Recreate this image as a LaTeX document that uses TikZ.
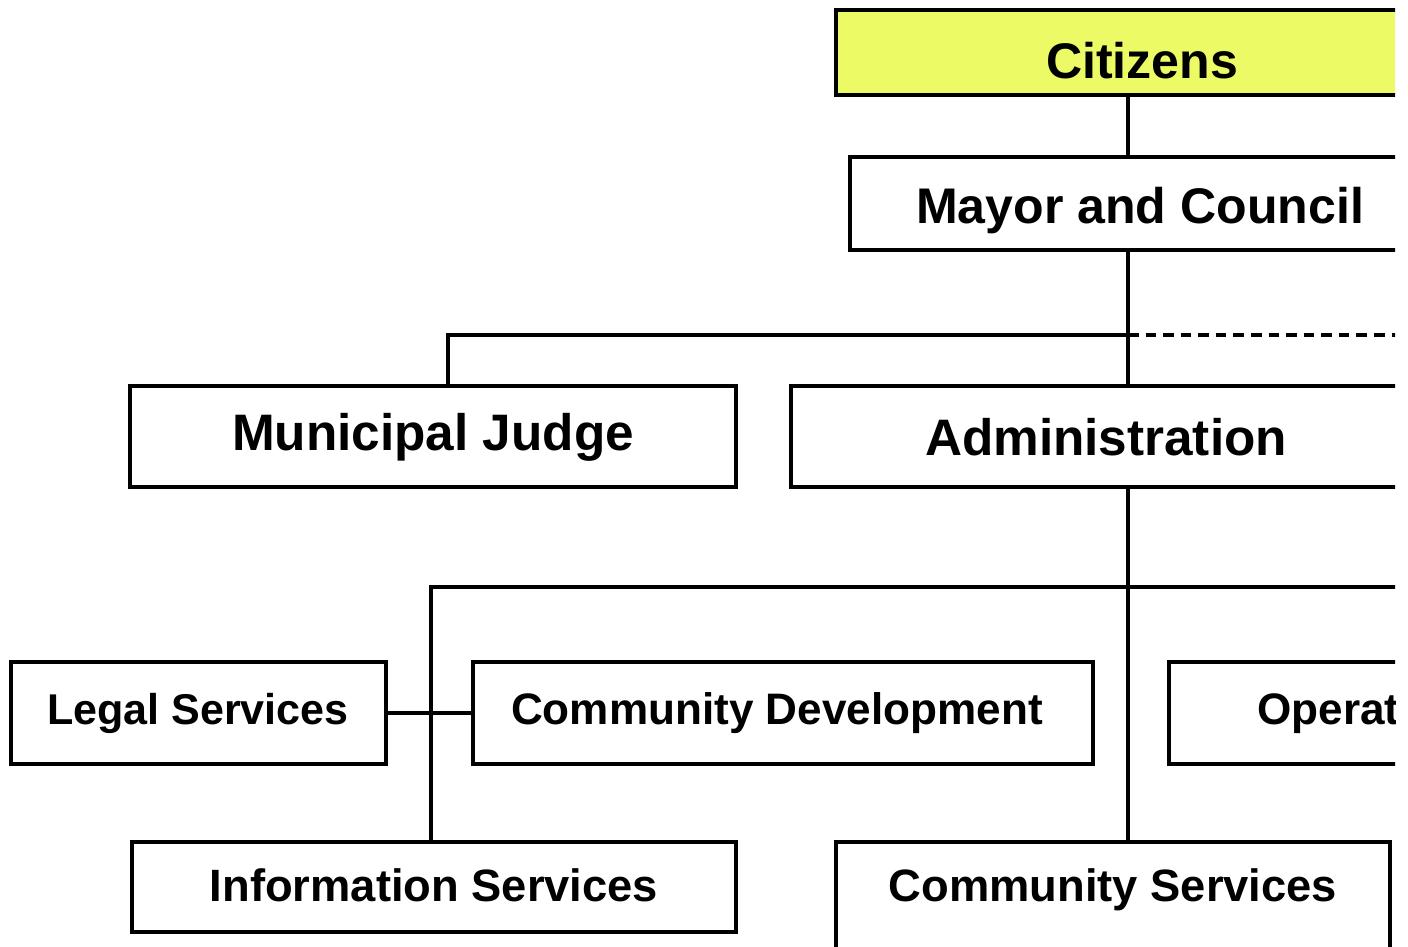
\documentclass[tikz,border=0pt]{standalone}
\usepackage{fontspec}
\setmainfont{Liberation Sans}
\definecolor{citizenyellow}{RGB}{236,250,102}
\tikzset{
  orgbox/.style={draw=black, line width=1.8pt, fill=white, rectangle, inner sep=0pt},
  boxtext/.style={anchor=base, inner sep=0pt, font=\fontsize{#1}{#1}\selectfont\bfseries},
  link/.style={draw=black, line width=1.8pt},
  dashlink/.style={draw=black, line width=1.8pt, dash pattern=on 6pt off 4pt}
}
\begin{document}
\begin{tikzpicture}[x=0.02cm,y=-0.02cm]
\useasboundingbox[fill=white] (0,0) rectangle (1408,946);
\begin{scope}
\clip (0,0) rectangle (1395,946);
% spine coordinates
\coordinate (spine) at (1128,0);
\coordinate (jx) at (448,335);
\coordinate (j1) at (1128,335);
\coordinate (jend) at (1400,335);
\coordinate (b1) at (431,587);
\coordinate (bend) at (1400,587);

% boxes
\node[orgbox, fill=citizenyellow, minimum width=12.24cm, minimum height=1.7cm] (cit) at (1142,52.5) {};
\node[orgbox, minimum width=11.6cm, minimum height=1.86cm] (mayor) at (1140,203.5) {};
\node[orgbox, minimum width=12.12cm, minimum height=2.02cm] (judge) at (433,436.5) {};
\node[orgbox, minimum width=12.6cm, minimum height=2.02cm] (admin) at (1106,436.5) {};
\node[orgbox, minimum width=7.5cm, minimum height=2.04cm] (legal) at (198.5,713) {};
\node[orgbox, minimum width=12.4cm, minimum height=2.04cm] (cd) at (783,713) {};
\node[orgbox, minimum width=8.16cm, minimum height=2.04cm] (ops) at (1373,713) {};
\node[orgbox, minimum width=12.08cm, minimum height=1.8cm] (is) at (434,887) {};
\node[orgbox, minimum width=11.08cm, minimum height=2.2cm] (cs) at (1113,897) {};

% texts
\node[boxtext=28.5pt] (citT) at (1142,78) {Citizens};
\node[boxtext=28.5pt] (mayorT) at (1140,223) {Mayor and Council};
\node[boxtext=29.2pt] (judgeT) at (433,450) {Municipal Judge};
\node[boxtext=29.2pt] (adminT) at (1106,455) {Administration};
\node[boxtext=24.5pt] (legalT) at (198,724) {Legal Services};
\node[boxtext=25.1pt] (cdT) at (777,724) {Community Development};
\node[boxtext=25.1pt, anchor=base west] (opsT) at (1257,724) {Operations};
\node[boxtext=25.8pt] (isT) at (434,901) {Information Services};
\node[boxtext=25.8pt] (csT) at (1113,901) {Community Services};

% connectors
\draw[link] (cit.south -| spine) -- (mayor.north -| spine);
\draw[link] (mayor.south -| spine) -- (admin.north -| spine);
\draw[link] (judge.north -| jx) -- (jx) -- (j1);
\draw[dashlink] (j1) -- (jend);
\draw[link] (admin.south -| spine) -- (cs.north -| spine);
\draw[link] (is.north -| b1) -- (b1) -- (bend);
\draw[link] (legal.east) -- (cd.west);
\end{scope}
\end{tikzpicture}
\end{document}
